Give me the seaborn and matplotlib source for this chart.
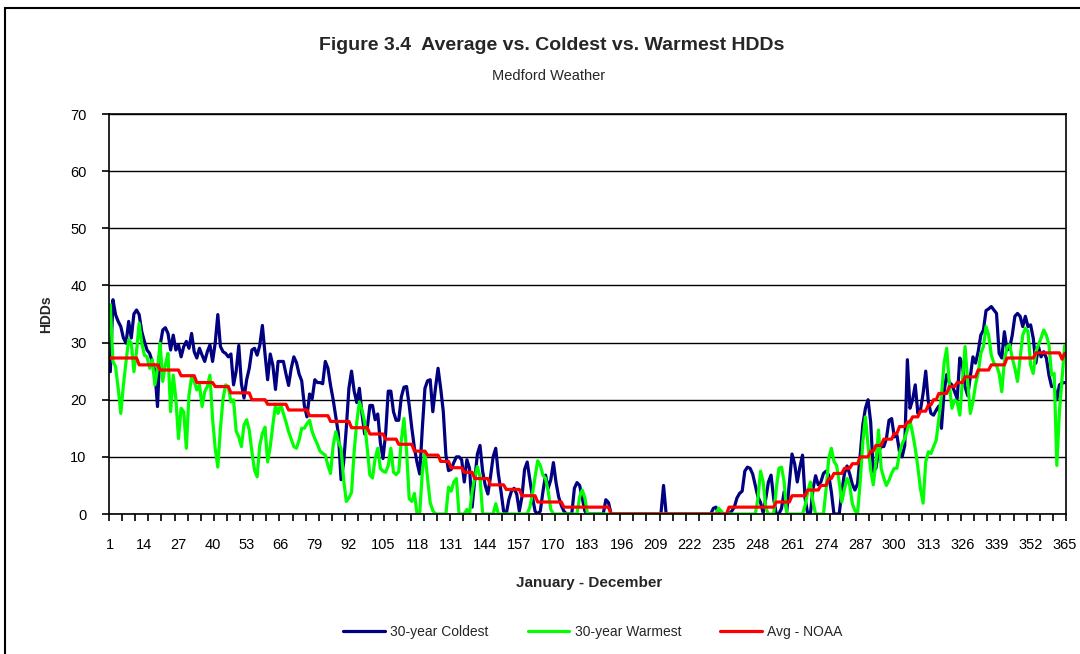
import matplotlib
matplotlib.use("Agg")
import matplotlib.pyplot as plt
import seaborn as sns
import pandas as pd
import numpy as np
from matplotlib import font_manager
from matplotlib.patches import Rectangle
from matplotlib.lines import Line2D
from matplotlib.ticker import FixedLocator

# ---------------- data ----------------
series_names = ["30-year Coldest", "30-year Warmest", "Avg - NOAA"]
series_colors = ["#000080", "#00FF00", "#FF0000"]
x_tick_labels = [str(d) for d in range(1, 366, 13)]
y_ticks = [0, 10, 20, 30, 40, 50, 60, 70]

coldest = [
    24.9, 37.5, 34.9, 33.7, 32.8, 30.8, 29.9, 33.7, 30.8, 35.0,
    35.7, 34.9, 31.9, 30.2, 28.7, 28.1, 26.7, 25.0, 18.8, 29.5,
    32.2, 32.6, 31.6, 28.7, 31.3, 28.7, 29.6, 27.5, 29.3, 30.2,
    29.0, 31.6, 28.4, 27.3, 29.0, 27.8, 26.7, 28.4, 29.6, 26.7,
    29.9, 34.9, 29.3, 28.4, 28.1, 27.5, 28.0, 22.6, 25.0, 29.5,
    22.8, 20.3, 23.5, 25.5, 28.7, 29.0, 27.8, 29.5, 33.0, 28.0,
    23.5, 28.0, 26.0, 21.8, 26.7, 26.7, 26.7, 24.5, 22.5, 25.5,
    27.5, 26.5, 24.5, 23.3, 19.0, 17.0, 21.0, 20.2, 23.5, 23.0,
    23.0, 22.8, 26.7, 25.5, 22.5, 20.0, 17.0, 14.0, 6.0, 9.0,
    15.0, 22.0, 25.0, 21.5, 19.5, 22.0, 17.5, 14.0, 15.0, 19.0,
    19.0, 16.5, 17.5, 12.5, 9.7, 14.0, 21.5, 21.5, 17.9, 16.4,
    16.4, 20.5, 22.2, 22.3, 19.0, 15.0, 11.5, 9.0, 7.0, 15.0,
    22.0, 23.3, 23.5, 17.9, 22.0, 25.5, 22.0, 17.9, 10.3, 7.6,
    7.8, 9.0, 10.0, 10.0, 9.5, 5.6, 9.5, 8.0, 1.2, 6.0,
    10.5, 12.0, 7.5, 5.0, 3.5, 6.5, 10.0, 11.5, 7.0, 4.0,
    0.5, 0.0, 2.5, 4.0, 4.5, 3.5, 0.5, 3.0, 7.8, 9.1,
    6.0, 3.0, 0.5, 0.0, 0.5, 3.9, 6.8, 4.5, 6.0, 9.0,
    5.5, 3.0, 1.5, 0.5, 0.0, 0.0, 0.0, 4.5, 5.5, 5.0,
    2.8, 0.5, 0.0, 0.0, 0.0, 0.0, 0.0, 0.0, 0.0, 2.5,
    2.0, 0.0, 0.0, 0.0, 0.0, 0.0, 0.0, 0.0, 0.0, 0.0,
    0.0, 0.0, 0.0, 0.0, 0.0, 0.0, 0.0, 0.0, 0.0, 0.0,
    0.0, 5.0, 0.0, 0.0, 0.0, 0.0, 0.0, 0.0, 0.0, 0.0,
    0.0, 0.0, 0.0, 0.0, 0.0, 0.0, 0.0, 0.0, 0.0, 0.0,
    1.0, 1.2, 0.0, 0.0, 0.0, 0.0, 0.0, 0.5, 1.2, 2.8,
    3.6, 4.0, 7.5, 8.2, 8.0, 7.0, 5.0, 3.0, 2.0, 0.2,
    2.7, 5.6, 6.8, 2.7, 0.0, 0.0, 1.0, 3.9, 0.5, 5.6,
    10.5, 8.8, 5.6, 8.2, 10.3, 2.7, 0.0, 0.0, 4.4, 6.7,
    5.1, 5.6, 7.1, 7.5, 6.8, 3.9, 0.0, 0.0, 0.0, 3.9,
    7.1, 8.4, 7.0, 5.2, 4.2, 5.3, 10.3, 15.6, 18.5, 20.0,
    16.1, 7.4, 8.0, 10.9, 11.8, 11.8, 13.2, 16.4, 16.7, 13.5,
    13.8, 10.9, 10.0, 12.0, 27.0, 18.5, 20.0, 22.6, 17.6, 18.2,
    21.1, 25.0, 19.6, 17.6, 17.3, 18.2, 18.9, 15.0, 21.4, 24.4,
    23.0, 22.6, 21.4, 20.2, 27.3, 26.0, 22.3, 20.7, 24.0, 27.5,
    26.4, 28.4, 31.3, 32.2, 35.6, 35.9, 36.3, 35.7, 35.1, 28.1,
    27.3, 31.9, 28.7, 29.0, 31.3, 34.6, 35.1, 34.6, 32.8, 34.6,
    32.8, 33.1, 30.8, 26.4, 29.3, 27.5, 28.4, 27.3, 24.3, 22.3,
    22.3, 20.0, 22.6, 22.9, 23.0,
]

warmest = [
    36.6, 26.7, 25.8, 22.0, 17.6, 22.6, 26.7, 30.5, 29.9, 24.9,
    28.4, 33.4, 29.9, 27.8, 27.5, 25.5, 27.0, 22.6, 25.5, 29.9,
    23.2, 26.1, 28.1, 17.9, 24.3, 20.2, 13.2, 18.5, 17.9, 11.5,
    20.8, 24.0, 23.2, 21.7, 22.6, 18.8, 21.4, 22.3, 24.3, 16.7,
    11.5, 8.2, 15.0, 20.2, 22.6, 22.3, 19.6, 20.0, 14.5, 13.5,
    11.8, 15.6, 16.5, 14.7, 10.9, 7.7, 6.5, 12.0, 14.1, 15.2,
    9.1, 11.8, 15.6, 19.1, 17.6, 19.2, 17.6, 16.1, 14.4, 13.1,
    11.8, 11.5, 12.9, 15.0, 15.0, 15.8, 16.4, 14.4, 13.2, 12.2,
    11.0, 10.6, 10.3, 8.5, 7.1, 12.0, 14.4, 12.6, 11.5, 6.0,
    2.2, 2.8, 3.8, 10.9, 16.1, 19.6, 18.2, 16.1, 11.5, 6.8,
    6.3, 9.7, 11.5, 8.0, 7.5, 7.3, 8.5, 11.5, 7.3, 6.9,
    7.4, 12.9, 16.7, 10.9, 2.7, 2.2, 3.6, 0.0, 0.0, 7.4,
    10.9, 6.2, 2.0, 0.6, 0.0, 0.0, 0.0, 0.0, 0.0, 4.7,
    4.0, 5.6, 6.2, 0.0, 0.0, 0.0, 0.8, 0.0, 3.9, 6.5,
    8.3, 6.5, 0.0, 0.0, 0.0, 0.0, 0.0, 1.8, 0.0, 0.0,
    0.0, 0.0, 0.0, 0.0, 0.0, 0.0, 0.0, 0.0, 0.0, 0.0,
    1.2, 3.5, 6.5, 9.3, 8.5, 6.8, 6.2, 4.0, 0.8, 0.0,
    0.0, 0.0, 0.0, 0.0, 0.0, 0.0, 0.0, 0.0, 0.0, 3.0,
    4.2, 2.8, 0.0, 0.0, 0.0, 0.0, 0.0, 0.0, 0.0, 0.0,
    0.0, 0.0, 0.0, 0.0, 0.0, 0.0, 0.0, 0.0, 0.0, 0.0,
    0.0, 0.0, 0.0, 0.0, 0.0, 0.0, 0.0, 0.0, 0.0, 0.0,
    0.0, 0.0, 0.0, 0.0, 0.0, 0.0, 0.0, 0.0, 0.0, 0.0,
    0.0, 0.0, 0.0, 0.0, 0.0, 0.0, 0.0, 0.0, 0.0, 0.0,
    0.0, 0.0, 1.0, 0.5, 0.0, 0.0, 0.0, 0.0, 0.0, 0.0,
    0.0, 0.0, 0.0, 0.0, 0.0, 0.0, 0.0, 2.7, 7.5, 5.6,
    1.0, 0.0, 0.0, 0.0, 4.4, 8.0, 8.2, 5.6, 0.0, 0.0,
    0.0, 0.0, 0.0, 0.0, 0.0, 1.5, 3.9, 5.6, 2.1, 0.0,
    0.0, 0.0, 0.0, 4.4, 9.7, 11.5, 9.2, 8.5, 5.6, 2.1,
    4.4, 6.2, 5.1, 1.8, 0.6, 0.0, 5.6, 12.6, 17.0, 12.0,
    7.7, 5.1, 9.1, 14.7, 8.0, 6.3, 5.0, 5.9, 7.1, 8.0,
    8.0, 10.6, 12.3, 13.2, 14.7, 16.4, 14.1, 11.5, 8.2, 4.4,
    1.9, 9.1, 10.9, 10.6, 11.8, 12.9, 16.7, 20.8, 26.4, 29.0,
    22.6, 18.5, 19.9, 19.6, 17.3, 23.2, 29.3, 23.2, 17.6, 19.6,
    22.6, 24.6, 28.1, 29.3, 32.8, 31.3, 27.8, 26.4, 26.0, 24.6,
    21.4, 26.7, 29.3, 29.6, 27.3, 25.5, 23.2, 27.3, 31.3, 32.5,
    32.0, 26.0, 24.6, 28.4, 29.6, 30.8, 32.2, 31.3, 29.6, 24.3,
    24.6, 8.5, 18.0, 23.7, 29.5,
]

avg_noaa = [
    27.3, 27.3, 27.3, 27.3, 27.3, 27.3, 27.3, 27.3, 27.3, 27.3,
    27.3, 26.1, 26.1, 26.1, 26.1, 26.1, 26.1, 26.1, 26.1, 25.2,
    25.2, 25.2, 25.2, 25.2, 25.2, 25.2, 25.2, 24.2, 24.2, 24.2,
    24.2, 24.2, 24.2, 23.0, 23.0, 23.0, 23.0, 23.0, 23.0, 23.0,
    22.3, 22.3, 22.3, 22.3, 22.3, 22.3, 21.2, 21.2, 21.2, 21.2,
    21.2, 21.2, 21.2, 21.2, 20.0, 20.0, 20.0, 20.0, 20.0, 20.0,
    19.2, 19.2, 19.2, 19.2, 19.2, 19.2, 19.2, 19.2, 18.2, 18.2,
    18.2, 18.2, 18.2, 18.2, 18.2, 18.2, 17.2, 17.2, 17.2, 17.2,
    17.2, 17.2, 17.2, 17.2, 16.2, 16.2, 16.2, 16.2, 16.2, 16.2,
    16.2, 16.2, 15.1, 15.1, 15.1, 15.1, 15.1, 15.1, 15.1, 14.0,
    14.0, 14.0, 14.0, 14.0, 14.0, 13.1, 13.1, 13.1, 13.1, 13.1,
    12.2, 12.2, 12.2, 12.2, 12.2, 12.2, 11.0, 11.0, 11.0, 11.0,
    11.0, 10.3, 10.3, 10.3, 10.3, 10.3, 9.2, 9.2, 9.2, 9.2,
    8.1, 8.1, 8.1, 8.1, 8.1, 7.3, 7.3, 7.3, 7.3, 6.2,
    6.2, 6.2, 6.2, 6.2, 6.2, 5.1, 5.1, 5.1, 5.1, 5.1,
    5.1, 4.3, 4.3, 4.3, 4.3, 4.3, 4.3, 3.2, 3.2, 3.2,
    3.2, 3.2, 3.2, 2.1, 2.1, 2.1, 2.1, 2.1, 2.1, 2.1,
    2.1, 2.1, 2.1, 1.2, 1.2, 1.2, 1.2, 1.2, 1.2, 1.2,
    1.2, 1.2, 1.2, 1.2, 1.2, 1.2, 1.2, 1.2, 1.2, 1.2,
    1.2, 0.0, 0.0, 0.0, 0.0, 0.0, 0.0, 0.0, 0.0, 0.0,
    0.0, 0.0, 0.0, 0.0, 0.0, 0.0, 0.0, 0.0, 0.0, 0.0,
    0.0, 0.0, 0.0, 0.0, 0.0, 0.0, 0.0, 0.0, 0.0, 0.0,
    0.0, 0.0, 0.0, 0.0, 0.0, 0.0, 0.0, 0.0, 0.0, 0.0,
    0.0, 0.0, 0.0, 0.0, 0.0, 0.0, 1.2, 1.2, 1.2, 1.2,
    1.2, 1.2, 1.2, 1.2, 1.2, 1.2, 1.2, 1.2, 1.2, 1.2,
    1.2, 1.2, 1.2, 1.2, 2.1, 2.1, 2.1, 2.1, 2.1, 2.1,
    3.2, 3.2, 3.2, 3.2, 3.2, 3.2, 4.2, 4.2, 4.2, 4.2,
    4.2, 5.0, 5.0, 5.0, 6.2, 6.2, 7.1, 7.1, 7.1, 7.1,
    8.0, 8.0, 8.0, 8.8, 8.8, 8.8, 10.0, 10.0, 10.0, 10.0,
    11.0, 11.0, 12.0, 12.0, 12.0, 13.1, 13.1, 13.1, 13.1, 14.1,
    14.1, 15.3, 15.3, 15.3, 16.1, 16.1, 17.0, 17.0, 17.0, 18.0,
    18.0, 18.0, 19.1, 19.1, 20.0, 20.0, 21.1, 21.1, 21.1, 21.1,
    22.3, 22.3, 22.3, 23.0, 23.0, 23.0, 24.0, 24.0, 24.0, 24.0,
    24.0, 25.2, 25.2, 25.2, 25.2, 25.2, 26.1, 26.1, 26.1, 26.1,
    26.1, 26.1, 27.3, 27.3, 27.3, 27.3, 27.3, 27.3, 27.3, 27.3,
    27.3, 27.3, 27.3, 28.2, 28.2, 28.2, 28.2, 28.2, 28.2, 28.2,
    28.2, 28.2, 28.2, 27.1, 28.1,
]

# ---------------- fonts / style ----------------
sns.set_theme(style="white")
_names = {f.name for f in font_manager.fontManager.ttflist}
FONT = "Liberation Sans" if "Liberation Sans" in _names else "DejaVu Sans"
HAS_NARROW = "Liberation Sans Narrow" in _names
NARROW = "Liberation Sans Narrow" if HAS_NARROW else FONT
plt.rcParams["font.family"] = [FONT, "DejaVu Sans"]
TICK_SIZE = 14 if HAS_NARROW else 10.5

# ---------------- long table ----------------
frames = []
for name, vals in zip(series_names, [coldest, warmest, avg_noaa]):
    frames.append(pd.DataFrame({"day": np.arange(1, len(vals) + 1),
                                "hdd": vals, "series": name}))
long_df = pd.concat(frames, ignore_index=True)

W, H = 1080, 654
fig = plt.figure(figsize=(W / 100, H / 100), dpi=100)
fig.patch.set_facecolor("white")
ax = fig.add_axes([109 / W, 1 - 514 / H, (1066 - 109) / W, 400 / H])
ax.set_facecolor("white")

palette = dict(zip(series_names, series_colors))
sns.lineplot(data=long_df, x="day", y="hdd", hue="series",
             hue_order=series_names, palette=palette, linewidth=2.3,
             legend=False, ax=ax, sort=False, estimator=None)

ax.set_xlim(0.5, 365.5)
ax.set_ylim(0, 70)
ax.set_xlabel("")
ax.set_ylabel("")

# y axis
ax.set_yticks(y_ticks)
ax.set_yticklabels([str(v) for v in y_ticks], fontsize=TICK_SIZE,
                   family=[NARROW, "DejaVu Sans"])
ax.yaxis.grid(True, color="black", linewidth=1.0)
ax.xaxis.grid(False)
ax.set_axisbelow(True)
ax.tick_params(axis="y", which="major", direction="out", length=5.2,
               width=1.2, color="black", pad=11, labelcolor="black", left=True)

# x axis: labels every 13 days, tick marks every 5 categories
label_pos = [int(s) for s in x_tick_labels]
ax.set_xticks(label_pos)
ax.set_xticklabels(x_tick_labels, fontsize=TICK_SIZE,
                   family=[NARROW, "DejaVu Sans"])
ax.tick_params(axis="x", which="major", length=0, pad=17,
               labelcolor="black", bottom=True)
ax.xaxis.set_minor_locator(FixedLocator(np.arange(0.5, 366, 5)))
ax.tick_params(axis="x", which="minor", direction="out", length=5.2,
               width=1.2, color="black", bottom=True)

for sp in ax.spines.values():
    sp.set_visible(True)
    sp.set_color("black")
    sp.set_linewidth(1.2)

# texts
fig.text(552 / W, 1 - 45 / H, "Figure 3.4  Average vs. Coldest vs. Warmest HDDs",
         ha="center", va="center", fontsize=14, fontweight="bold")
fig.text(549 / W, 1 - 76 / H, "Medford Weather",
         ha="center", va="center", fontsize=10.5)
fig.text(589 / W, 1 - 583 / H, "January - December",
         ha="center", va="center", fontsize=11, fontweight="bold")
fig.text(46 / W, 1 - 314 / H, "HDDs", rotation=90,
         ha="center", va="center", fontsize=10, fontweight="bold")

# legend
handles = [Line2D([0], [0], color=c, lw=2.3) for c in series_colors]
fig.legend(handles, series_names, loc="center", ncol=3,
           bbox_to_anchor=(593 / W, 1 - 632 / H), frameon=False,
           fontsize=10, handlelength=3.0, handletextpad=0.4,
           columnspacing=2.8)

# outer chart border (left & top visible, others off-canvas)
fig.add_artist(Rectangle((5 / W, -0.2), 2.0, (1 - 8 / H) + 0.2,
                         transform=fig.transFigure, fill=False,
                         edgecolor="black", linewidth=1.5))

fig.savefig("out.png", dpi=100, facecolor="white")
